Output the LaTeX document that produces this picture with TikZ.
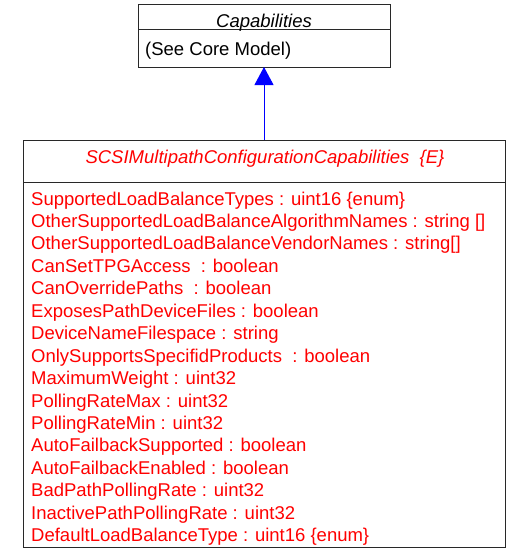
\documentclass[tikz,border=0pt]{standalone}
\usepackage{fontspec}
\setmainfont{Liberation Sans}
\usetikzlibrary{arrows.meta}
\definecolor{umlred}{RGB}{255,0,0}
\definecolor{umlblue}{RGB}{0,0,255}
\definecolor{boxline}{RGB}{40,40,40}
\begin{document}
\begin{tikzpicture}[x=1pt,y=-1pt,
  boxstyle/.style={draw=boxline,line width=1pt},
  attr/.style={anchor=base west,inner sep=0pt,text=umlred,font=\fontsize{18.5}{20}\selectfont},
  hdr/.style={anchor=base,inner sep=0pt,font=\fontsize{18.5}{20}\selectfont\itshape},
  inherit/.style={draw=umlblue,line width=1pt,-{Triangle[width=19pt,length=18pt]}}]
\useasboundingbox (0,0) rectangle (508,549);
% top class
\draw[boxstyle] (138,4) rectangle (390,67);
\draw[boxstyle] (138,29.5) -- (390,29.5);
\node[hdr] (captitle) at (264,27) {Capabilities};
\node[attr,text=black] (capattr) at (145,55) {(See Core Model)};
\coordinate (captop) at (264,67);
% bottom class
\draw[boxstyle] (23,140) rectangle (505,547.5);
\draw[boxstyle] (23,182) -- (505,182);
\node[hdr,text=umlred] (sctitle) at (265,163.3) {SCSIMultipathConfigurationCapabilities\ \ \{E\}};
\coordinate (scbot) at (264,140);
\draw[inherit] (scbot) -- (captop);
\foreach \t [count=\i from 0] in {
  SupportedLoadBalanceTypes : uint16 \{enum\},
  OtherSupportedLoadBalanceAlgorithmNames : string [],
  OtherSupportedLoadBalanceVendorNames : string[],
  CanSetTPGAccess\ \ : boolean,
  CanOverridePaths\ \ : boolean,
  ExposesPathDeviceFiles : boolean,
  DeviceNameFilespace : string,
  OnlySupportsSpecifidProducts\ \ : boolean,
  MaximumWeight : uint32,
  PollingRateMax : uint32,
  PollingRateMin : uint32,
  AutoFailbackSupported : boolean,
  AutoFailbackEnabled : boolean,
  BadPathPollingRate : uint32,
  InactivePathPollingRate : uint32,
  DefaultLoadBalanceType : uint16 \{enum\}}
  \node[attr] (a\i) at (31,{205+22.45*\i}) {\t};
\end{tikzpicture}
\end{document}
